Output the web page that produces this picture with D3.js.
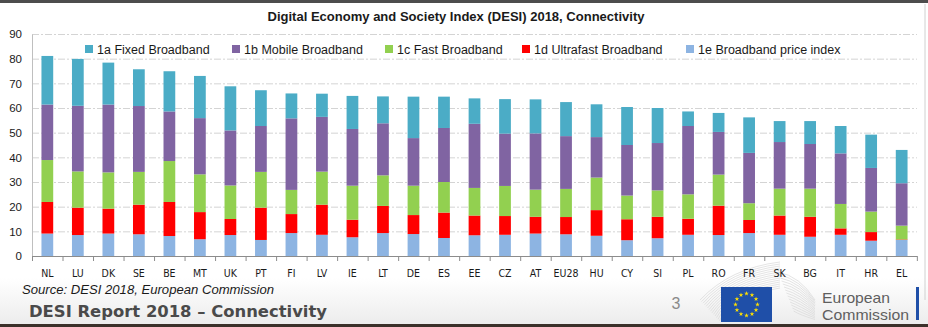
<!DOCTYPE html>
<html>
<head>
<meta charset="utf-8">
<script src="https://cdn.jsdelivr.net/npm/d3@7"></script>
<style>
  body { margin: 0; background: #fff; }
  svg { display: block; font-family: "Liberation Sans", Arial, sans-serif; }
</style>
</head>
<body>
<div id="chart"></div>
<script>
const countries = ["NL", "LU", "DK", "SE", "BE", "MT", "UK", "PT", "FI", "LV", "IE", "LT", "DE", "ES",
  "EE", "CZ", "AT", "EU28", "HU", "CY", "SI", "PL", "RO", "FR", "SK", "BG", "IT", "HR", "EL"];

const priceIndex = [9.1, 8.5, 9.1, 8.8, 8.1, 6.8, 8.5, 6.5, 9.3, 8.6, 7.6, 9.3, 8.9, 7.3,
  8.4, 8.6, 9.1, 8.8, 8.2, 6.4, 7.2, 8.6, 8.5, 9.3, 8.6, 7.8, 8.6, 6.2, 6.5];
const ultrafast = [12.8, 11.1, 10.1, 12.0, 13.8, 11.0, 6.5, 13.1, 7.7, 12.2, 7.1, 11.0, 7.7, 10.3,
  8.0, 7.6, 6.8, 7.0, 10.4, 8.5, 8.7, 6.5, 11.9, 5.3, 7.8, 8.1, 2.6, 3.5, 0.2];
const fast = [17.0, 14.7, 14.7, 13.3, 16.6, 15.3, 13.6, 14.5, 9.8, 13.4, 13.8, 12.4, 11.9, 12.4,
  11.2, 12.2, 11.0, 11.4, 13.2, 9.6, 10.7, 9.9, 12.6, 6.8, 10.9, 11.4, 9.9, 8.3, 5.6];
const mobile = [22.5, 26.6, 27.5, 26.7, 20.1, 22.8, 22.3, 18.6, 29.0, 22.2, 23.0, 21.1, 19.3, 21.9,
  26.0, 21.2, 22.8, 21.4, 16.4, 20.5, 19.2, 27.7, 17.3, 20.4, 18.9, 18.1, 20.5, 17.7, 17.2];
const fixed = [19.7, 19.0, 17.0, 14.9, 16.3, 17.1, 17.9, 14.5, 10.1, 9.4, 13.4, 10.9, 16.8, 12.7,
  10.3, 14.0, 13.8, 13.8, 13.3, 15.4, 14.2, 5.9, 7.7, 14.4, 8.5, 9.3, 11.1, 13.5, 13.5];

const seriesNames = ["1a Fixed Broadband", "1b Mobile Broadband", "1c Fast Broadband",
  "1d Ultrafast Broadband", "1e Broadband price index"];
const seriesColors = ["#4bacc6", "#8064a2", "#92d050", "#ff0000", "#8db4e2"];
const yTicks = [0, 10, 20, 30, 40, 50, 60, 70, 80, 90];

// stacking order bottom -> top
const keys = ["e", "d", "c", "b", "a"];
const colorOf = { a: seriesColors[0], b: seriesColors[1], c: seriesColors[2], d: seriesColors[3], e: seriesColors[4] };
const rows = countries.map((c, i) => ({
  country: c, a: fixed[i], b: mobile[i], c: fast[i], d: ultrafast[i], e: priceIndex[i]
}));

const w = 928, h = 327;
const svg = d3.select("#chart").append("svg").attr("width", w).attr("height", h);

// slide background
const defs = svg.append("defs");
const grad = defs.append("linearGradient").attr("id", "foot").attr("x1", 0).attr("y1", 0).attr("x2", 0).attr("y2", 1);
grad.append("stop").attr("offset", "0%").attr("stop-color", "#ffffff");
grad.append("stop").attr("offset", "100%").attr("stop-color", "#ececec");
svg.append("rect").attr("x", 0).attr("y", 278).attr("width", w).attr("height", 47).attr("fill", "url(#foot)");
svg.append("rect").attr("x", 0).attr("y", 0).attr("width", w).attr("height", 3).attr("fill", "#4d4d4d");
svg.append("rect").attr("x", 0).attr("y", 324).attr("width", w).attr("height", 3).attr("fill", "#3b302a");
svg.append("line").attr("x1", 925).attr("x2", 925).attr("y1", 4).attr("y2", 300)
  .attr("stroke", "#d0d0d0");

// faint building lines behind the logo
const deco = svg.append("g").attr("stroke", "#d8d8d8").attr("fill", "none").attr("stroke-width", 0.7);
d3.range(14).forEach(i => {
  deco.append("path").attr("d", `M${700 + i * 1.5},${300 + i * 1.6} Q${730},${268 + i * 2.2} ${780},${262 + i * 2}`);
  deco.append("path").attr("d", `M${778 + i * 1.2},${272 + i * 3} Q${800},${276 + i * 3} ${815},${300 + i * 1.5}`);
});

const m = { left: 32, right: 11, top: 34, bottom: 71 };
const x = d3.scaleBand().domain(countries).range([m.left, w - m.right]).paddingInner(0.615).paddingOuter(0.31);
const y = d3.scaleLinear().domain([0, 90]).range([h - m.bottom, m.top]);
const step = x.step();

// title
svg.append("text").attr("x", 456).attr("y", 21).attr("text-anchor", "middle")
  .attr("font-size", 12.5).attr("font-weight", "bold").attr("fill", "#1a1a1a")
  .attr("textLength", 377).attr("lengthAdjust", "spacingAndGlyphs")
  .text("Digital Economy and Society Index (DESI) 2018, Connectivity");

// grid
svg.append("g").selectAll("line").data(yTicks.filter(t => t > 0)).enter().append("line")
  .attr("x1", m.left).attr("x2", w - m.right)
  .attr("y1", d => y(d) + 0.5).attr("y2", d => y(d) + 0.5)
  .attr("stroke", "#d4d4d4").attr("stroke-dasharray", "7,2,2,2");

// y axis
const yAxis = svg.append("g").attr("transform", `translate(${m.left},0)`)
  .call(d3.axisLeft(y).tickValues(yTicks).tickSize(0).tickPadding(10));
yAxis.select(".domain").attr("stroke", "#bfbfbf");
yAxis.selectAll("text").attr("font-size", 11.5).attr("fill", "#1a1a1a")
  .attr("font-family", "Liberation Sans, Arial, sans-serif");

// bars
const stacked = d3.stack().keys(keys)(rows);
svg.append("g").selectAll("g").data(stacked).enter().append("g")
  .attr("fill", s => colorOf[s.key])
  .selectAll("rect").data(s => s).enter().append("rect")
  .attr("x", d => x(d.data.country))
  .attr("width", x.bandwidth())
  .attr("y", d => y(d[1]))
  .attr("height", d => y(d[0]) - y(d[1]));

// x axis with ticks between categories
const xa = svg.append("g");
xa.append("line").attr("x1", m.left).attr("x2", w - m.right)
  .attr("y1", y(0) + 0.5).attr("y2", y(0) + 0.5).attr("stroke", "#8c8c8c");
xa.selectAll(".tk").data(d3.range(countries.length + 1)).enter().append("line")
  .attr("x1", i => m.left + i * step + 0.5).attr("x2", i => m.left + i * step + 0.5)
  .attr("y1", y(0)).attr("y2", y(0) + 5).attr("stroke", "#8c8c8c");
xa.selectAll("text").data(countries).enter().append("text")
  .attr("x", d => x(d) + x.bandwidth() / 2).attr("y", y(0) + 21)
  .attr("text-anchor", "middle").attr("font-size", 10.5).attr("fill", "#1a1a1a")
  .attr("font-family", "'Liberation Sans Narrow', 'DejaVu Sans Condensed', sans-serif")
  .text(d => d);

// legend
const legendX = [85, 232, 385, 522, 686];
const legend = svg.append("g").selectAll("g").data(seriesNames).enter().append("g")
  .attr("transform", (d, i) => `translate(${legendX[i]},45)`);
legend.append("rect").attr("width", 8).attr("height", 8).attr("fill", (d, i) => seriesColors[i]);
legend.append("text").attr("x", 12).attr("y", 9).attr("font-size", 12.5).attr("fill", "#1a1a1a").text(d => d);

// source
svg.append("text").attr("x", 22).attr("y", 294).attr("font-size", 12.5).attr("font-style", "italic")
  .attr("fill", "#1a1a1a").attr("textLength", 252).attr("lengthAdjust", "spacingAndGlyphs")
  .text("Source: DESI 2018, European Commission");

// footer
svg.append("text").attr("x", 29).attr("y", 317).attr("font-size", 15.5).attr("font-weight", "bold")
  .attr("font-family", "'DejaVu Sans Condensed', 'Liberation Sans', sans-serif")
  .attr("fill", "#4a4a4a").attr("textLength", 298).attr("lengthAdjust", "spacingAndGlyphs")
  .text("DESI Report 2018 \u2013 Connectivity");
svg.append("text").attr("x", 676).attr("y", 309).attr("text-anchor", "middle").attr("font-size", 16)
  .attr("fill", "#8a8a8a").text("3");

// EU flag
const flag = svg.append("g").attr("transform", "translate(721,287)");
flag.append("rect").attr("width", 51).attr("height", 35).attr("fill", "#1f4fa8");
const star = d3.symbol(d3.symbolStar).size(7);
flag.selectAll("path").data(d3.range(12)).enter().append("path")
  .attr("d", star)
  .attr("transform", i => `translate(${25.5 + 11 * Math.sin(i * Math.PI / 6)},${17.5 - 11 * Math.cos(i * Math.PI / 6)})`)
  .attr("fill", "#ffe000");

svg.append("text").attr("x", 822).attr("y", 303).attr("font-size", 14.5).attr("fill", "#5f5f5f")
  .attr("textLength", 68).attr("lengthAdjust", "spacingAndGlyphs").text("European");
svg.append("text").attr("x", 822).attr("y", 320).attr("font-size", 14.5).attr("fill", "#5f5f5f")
  .attr("textLength", 87).attr("lengthAdjust", "spacingAndGlyphs").text("Commission");
svg.append("rect").attr("x", 916).attr("y", 287).attr("width", 3).attr("height", 33).attr("fill", "#1f4fa8");
</script>
</body>
</html>
